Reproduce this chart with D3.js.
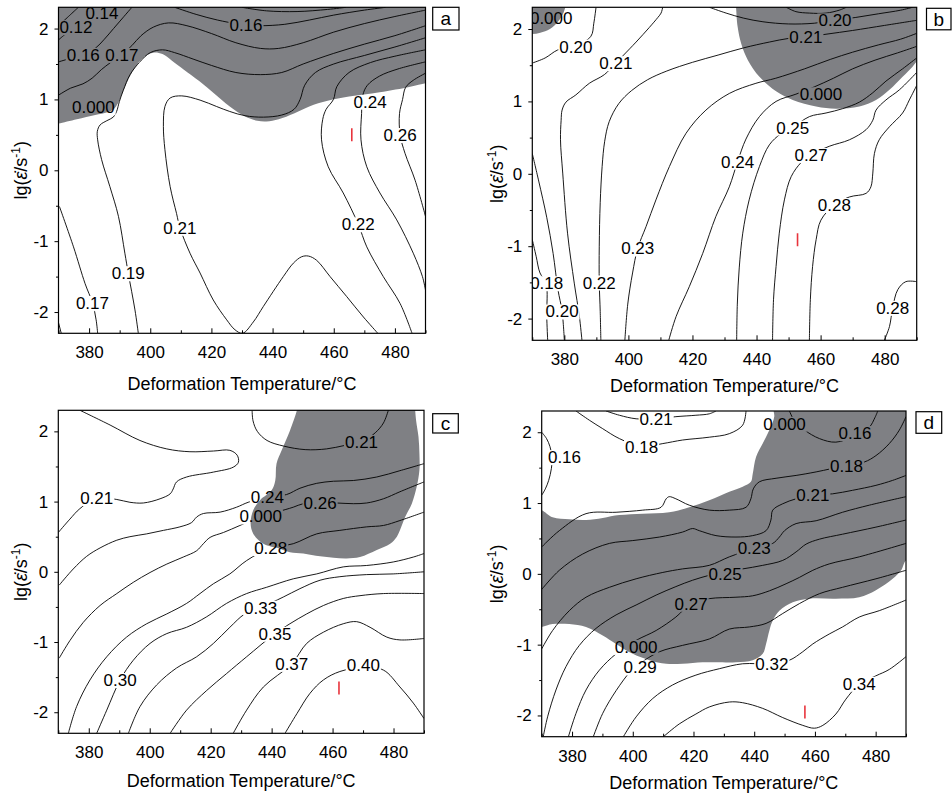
<!DOCTYPE html>
<html>
<head>
<meta charset="utf-8">
<script src="https://cdn.jsdelivr.net/npm/d3@7"></script>
<style>
  body { margin: 0; background: #fff; }
  svg { display: block; }
  text { font-family: "Liberation Sans", Arial, sans-serif; }
</style>
</head>
<body>
<svg id="chart" width="952" height="794"></svg>
<script>
// axis values shared by the four maps
const xDomain = [370, 490];
const yDomain = [-2.3, 2.3];
const xTicks = [380, 400, 420, 440, 460, 480];
const xMinor = [370, 390, 410, 430, 450, 470, 490];
const yTicks = [-2, -1, 0, 1, 2];
const yMinor = [-1.5, -0.5, 0.5, 1.5];

// ---- map a ----  points are [temperature, lg strain rate]
// a region is a list of pieces: curved runs of points, single points are straight corners
const aGray = [
  [[[368,0.65],[370,0.66],[376,0.72],[382,0.78],[386,0.82],[388,0.86],[389.5,0.95],[391,1.1],[393,1.3],[395.5,1.48],[398,1.6],[401,1.66],[404,1.64],[407,1.55],[411,1.42],[416,1.26],[421,1.08],[426,0.9],[431,0.76],[435,0.7],[438,0.69],[442,0.72],[447,0.8],[452,0.9],[458,0.98],[465,1.04],[475,1.1],[485,1.18],[490,1.23],[492,1.24]],
   [[492,2.5]], [[368,2.5]]]
];
const aLines = [
  [[370,1.84],[372.5,1.93],[375.7,2.03],[379.5,2.12],[382.5,2.22],[384.5,2.3]],
  [[371.5,2.1],[374,2.2],[376.5,2.3]],
  [[370,1.53],[374,1.58],[378.1,1.63],[382,1.72],[385,1.85],[388,2.0],[391,2.15],[394,2.3]],
  [[370,1.06],[374,1.16],[378,1.22],[381,1.3],[384,1.42],[387,1.52],[390.7,1.63],[394,1.76],[397,1.9],[401,2.02],[406,2.08],[412,2.04],[420,1.93],[428,1.8],[436,1.72],[442,1.72],[450,1.8],[460,1.95],[470,2.07],[480,2.17],[490,2.26]],
  [[408,2.3],[415,2.2],[422,2.12],[428,2.07],[431.5,2.05],[436,2.04],[444,2.06],[452,2.12],[460,2.19],[470,2.26],[477,2.3]],
  [[430,2.3],[438,2.25],[448,2.24],[458,2.27],[464,2.3]],
  [[396.1,-2.3],[395,-1.97],[392.8,-1.45],[391.7,-1.17],[389.6,-0.65],[386.8,-0.23],[384.1,0.15],[382.8,0.43],[382.7,0.55],[383.6,0.64],[385.8,0.7],[387.9,0.75],[389,0.83],[389.9,0.97],[391.2,1.13],[393.4,1.35],[396.6,1.53],[400,1.66],[404,1.7],[408,1.66],[414,1.57],[420,1.48],[428,1.38],[436,1.35],[443,1.38],[450,1.5],[460,1.65],[470,1.78],[480,1.9],[490,2.04]],
  [[490,1.87],[480,1.74],[470,1.62],[460,1.5],[454,1.38],[450.5,1.2],[449,1.0],[447,0.86],[443,0.78],[437,0.75],[431,0.77],[426,0.83],[421.7,0.9],[416.3,0.99],[410.3,1.05],[406.5,1.02],[404.8,0.9],[404.3,0.62],[404.8,0.29],[406.5,-0.23],[408.6,-0.61],[409.7,-0.81],[413,-1.17],[416.3,-1.45],[420.6,-1.83],[425,-2.11],[427.7,-2.25],[430.2,-2.3],[433.7,-2.14],[437,-1.92],[443.5,-1.5],[446.8,-1.31],[449.5,-1.22],[451.7,-1.21],[454.4,-1.27],[458.8,-1.5],[464.2,-1.78],[469.7,-2.07],[474.4,-2.3]],
  [[490,1.7],[480,1.61],[472,1.52],[465,1.38],[461,1.18],[459.9,1.0],[457.5,0.86],[456.4,0.72],[456,0.43],[458.2,0.05],[463.1,-0.32],[468,-0.76],[470.8,-1.08],[476.2,-1.5],[481.7,-1.88],[485.6,-2.3]],
  [[490,1.53],[481,1.43],[475,1.33],[471,1.2],[469.5,1.06],[469.1,0.8],[468.9,0.43],[470.8,0.05],[475.1,-0.32],[480.6,-0.7],[486,-1.17],[489,-1.5],[490,-1.69]],
  [[490,1.37],[486,1.27],[483.5,1.17],[482.5,1.0],[481.5,0.8],[481.7,0.5],[483.3,0.24],[486.6,-0.14],[490,-0.65]],
  [[370.3,-0.51],[374.9,-1.08],[378.7,-1.6],[381.1,-1.87],[382.3,-2.11],[382.8,-2.3]],
  [[370,-2.15],[370.9,-2.3]]
];
const aLabels = [["0.14",384.2,2.22],["0.12",375.7,2.02],["0.16",378.1,1.63],["0.17",390.7,1.63],["0.16",431.3,2.05],["0.000",381.4,0.89],["0.24",471.9,0.97],["0.26",481.7,0.5],["0.21",409.7,-0.81],["0.22",468,-0.76],["0.19",392.8,-1.45],["0.17",381.1,-1.87]];
const aMarker = [465.9, 0.5];

// ---- map b ----
const bGray = [
  [[[380.6,2.35],[380.3,2.3],[379.5,2.2],[378,2.1],[375.5,2.0],[372.5,1.95],[370,1.93],[368,1.93]],
   [[368,2.5]]],
  [[[433.5,2.35],[433.6,2.3],[434.1,2.03],[435.2,1.8],[437.3,1.57],[440.9,1.34],[446.1,1.14],[451.3,1.02],[458.6,0.93],[464.8,0.9],[472.1,0.93],[477.3,1.02],[481.5,1.16],[485.6,1.34],[488.7,1.48],[490,1.55],[492,1.62]],
   [[492,2.5]]]
];
const bLines = [
  [[370,1.53],[374,1.6],[377.9,1.71],[383.6,1.77],[388.3,1.9],[389.2,2.08],[389.9,2.3]],
  [[410.7,2.3],[410.2,2.22],[409.2,2.16],[406.5,2.02],[402.4,1.82],[398.5,1.64],[396.1,1.53],[392.5,1.37],[387.8,1.25],[383.6,1.09],[380.5,0.99],[379.3,0.88],[379,0.74],[378.8,0.47],[379.5,0.01],[381,-0.82],[383.1,-1.51],[384.7,-1.97],[385.5,-2.3]],
  [[391.4,-2.3],[391.2,-1.9],[390.9,-1.5],[390.9,-1.0],[391.2,-0.4],[391.8,0.1],[392.6,0.45],[394,0.72],[397,0.97],[401,1.15],[406,1.3],[412,1.42],[420,1.54],[428,1.64],[436,1.74],[444,1.82],[450,1.87],[455.4,1.89],[462,1.93],[470,1.98],[480,2.05],[490,2.12]],
  [[398.9,-2.3],[399.8,-1.8],[401.3,-1.37],[402.9,-1.03],[405.5,-0.73],[408.6,-0.36],[412.8,0.1],[418,0.56],[424.2,0.88],[431.5,1.11],[439.8,1.25],[446,1.32],[455,1.45],[463,1.58],[470,1.68],[478,1.78],[485,1.86],[490,1.94]],
  [[412.6,-2.3],[414.9,-1.97],[419,-1.56],[423.2,-1.1],[427.3,-0.59],[431.5,-0.18],[434.1,0.17],[436.7,0.48],[440.9,0.79],[446.1,1.0],[452.3,1.1],[458,1.2],[464,1.32],[470,1.45],[477,1.57],[484,1.67],[490,1.76]],
  [[433.8,-2.3],[434,-1.8],[434.6,-1.3],[435.7,-0.82],[437.7,-0.36],[440.9,0.1],[444,0.4],[447.5,0.55],[451.3,0.64],[456.5,0.79],[461.7,0.84],[466.9,0.9],[472.1,0.99],[476.3,1.12],[480.4,1.28],[485.6,1.45],[490,1.6]],
  [[445,-2.3],[445.3,-1.74],[446.1,-1.28],[447.1,-0.82],[448.7,-0.36],[450.8,-0.04],[454,0.16],[457,0.26],[462.7,0.38],[469,0.47],[474.2,0.61],[476.3,0.74],[477.3,0.88],[480.4,1.02],[484.6,1.16],[490,1.4]],
  [[456.5,-2.3],[456.8,-1.74],[457.5,-1.28],[458.6,-0.91],[460.1,-0.64],[464.3,-0.43],[469,-0.32],[474.2,-0.27],[475.7,-0.18],[476.3,0.01],[476.8,0.28],[478.3,0.47],[481.5,0.65],[485.6,0.84],[487.7,1.02],[490,1.22]],
  [[479.9,-2.3],[481.5,-2.11],[482.5,-1.85],[484.1,-1.6],[486.6,-1.49],[490,-1.49]],
  [[370,-0.91],[371.2,-1.14],[372.4,-1.37],[374.3,-1.51],[374.5,-1.97],[374.8,-2.3]],
  [[370,0.28],[372,-0.1],[374.5,-0.6],[376.5,-1.1],[378,-1.6],[379.3,-1.9],[380,-2.3]],
  [[449.3,2.3],[452.3,2.24],[456.5,2.22],[461.7,2.22],[465.8,2.26],[468,2.3]],
  [[425.3,2.3],[430.5,2.22],[436,2.15],[442,2.1],[450,2.07],[458,2.08],[464.3,2.12],[471,2.16],[478,2.21],[485,2.26],[488.7,2.3]]
];
const bLabels = [["0.000",375.9,2.15],["0.20",383.6,1.76],["0.21",396.1,1.53],["0.20",464.5,2.12],["0.21",455.4,1.89],["0.000",460.1,1.1],["0.25",451.3,0.64],["0.24",434.1,0.17],["0.27",457,0.26],["0.28",464.3,-0.43],["0.23",402.9,-1.03],["0.18",374.5,-1.51],["0.22",390.9,-1.5],["0.20",379.3,-1.9],["0.28",482.5,-1.85]];
const bMarker = [452.8, -0.91];

// ---- map c ----
const cGray = [
  [[[448.5,2.35],[448.3,2.3],[446,2.01],[443.3,1.73],[441.6,1.54],[441.2,1.3],[440,1.16],[436.2,1.02],[434,0.88],[433.1,0.69],[434,0.54],[437.3,0.4],[442.7,0.33],[446,0.28],[450.4,0.26],[455.9,0.22],[460.3,0.2],[464.6,0.19],[469,0.21],[474.5,0.31],[478.9,0.4],[481.1,0.5],[482.1,0.59],[483.8,0.78],[486,0.97],[487.6,1.21],[488.5,1.45],[488.5,1.68],[488.2,1.92],[487.4,2.16],[487.1,2.3],[487,2.35]]]
];
const cLines = [
  [[377.1,2.3],[387,2.09],[396.8,1.87],[405.6,1.75],[413.2,1.71],[420.9,1.72],[426.3,1.73],[428.7,1.66],[429.1,1.56],[427.4,1.49],[420.9,1.42],[412.1,1.35],[408.8,1.28],[407.7,1.18],[406.7,1.11],[403.4,1.04],[397.9,0.98],[393.5,0.99],[389.2,1.03],[382.6,1.05],[377.1,0.9],[373.8,0.75],[370,0.56]],
  [[433.6,2.3],[433.9,2.15],[435.3,2.0],[438.5,1.87],[444,1.79],[451,1.74],[458,1.75],[464,1.8],[469.5,1.85],[474,1.98],[476.7,2.12],[478.3,2.3]],
  [[370.3,-0.19],[374.9,0.04],[379.3,0.22],[383.7,0.34],[389.2,0.45],[393.5,0.5],[399,0.54],[404.5,0.59],[409.9,0.64],[413.7,0.7],[415.4,0.78],[417.6,0.83],[423.1,0.85],[428.5,0.92],[432.3,0.99],[438.4,1.06],[444.9,1.1],[449.3,1.19],[454.8,1.26],[460.3,1.29],[466.8,1.3],[474.5,1.35],[482.1,1.44],[490,1.54]],
  [[370.3,-1.23],[373.8,-0.98],[378.2,-0.72],[383.7,-0.48],[389.2,-0.31],[394.6,-0.15],[400.1,-0.01],[405.6,0.11],[411,0.21],[415.4,0.3],[417.6,0.4],[419.8,0.49],[424.2,0.56],[429.6,0.66],[436.4,0.79],[441.6,0.85],[447.1,0.92],[450.4,0.97],[455.9,0.98],[461.3,0.98],[466.8,0.97],[471.2,0.98],[476.7,1.04],[482.1,1.14],[490,1.28]],
  [[373.3,-2.3],[376,-1.92],[380.4,-1.54],[385.9,-1.21],[392.4,-0.93],[399,-0.74],[405.6,-0.6],[412.1,-0.45],[416.5,-0.31],[420.9,-0.17],[426.3,-0.03],[431.8,0.16],[439.7,0.34],[447.1,0.4],[454.8,0.54],[462.4,0.59],[471.2,0.64],[476.7,0.66],[482.1,0.73],[490,0.85]],
  [[382.6,-2.3],[385.9,-1.97],[390.3,-1.54],[394.6,-1.26],[400.1,-1.02],[405.6,-0.88],[412.1,-0.79],[418.7,-0.64],[425.2,-0.45],[431.8,-0.31],[438.4,-0.22],[447.1,-0.1],[454.8,-0.03],[463.5,0.07],[471.2,0.09],[479.9,0.14],[486.5,0.21],[490,0.26]],
  [[393,-2.3],[396.8,-1.92],[402.3,-1.61],[408.8,-1.37],[415.4,-1.21],[420.9,-1.02],[426.3,-0.79],[431.2,-0.6],[436.4,-0.51],[443.8,-0.36],[449.3,-0.24],[455.9,-0.12],[462.4,-0.07],[471.2,-0.04],[479.9,-0.03],[490,0]],
  [[406.7,-2.3],[412.1,-1.97],[418.7,-1.69],[425.2,-1.45],[431.8,-1.21],[441.1,-0.88],[446,-0.74],[451.5,-0.6],[457,-0.48],[463.5,-0.38],[469,-0.34],[476.7,-0.31],[490,-0.31]],
  [[427.4,-2.3],[431.8,-1.97],[437.3,-1.64],[446.6,-1.31],[451.5,-1.02],[457,-0.86],[463.5,-0.74],[467.9,-0.71],[472.3,-0.79],[477.8,-0.93],[482.1,-0.97],[490,-0.95]],
  [[444.4,-2.3],[448.3,-2.02],[452.6,-1.73],[457,-1.54],[462.4,-1.42],[470.1,-1.36],[476.7,-1.4],[482.1,-1.64],[486.5,-1.87],[490,-2.09]]
];
const cLabels = [["0.21",382.6,1.05],["0.21",469.5,1.85],["0.24",438.6,1.07],["0.26",455.9,0.98],["0.000",436.4,0.79],["0.28",439.7,0.34],["0.33",436.4,-0.51],["0.35",441.1,-0.88],["0.37",446.6,-1.31],["0.30",390.3,-1.54],["0.40",470.1,-1.33]];
const cMarker = [462.1, -1.655];

// ---- map d ----
const dGray = [
  [[[368,0.91],[370,0.9],[373.6,0.8],[379.1,0.77],[384.6,0.76],[390.1,0.79],[395.6,0.83],[403.3,0.85],[412,0.87],[418.6,0.94],[425.2,1.04],[431.8,1.16],[436.2,1.23],[438.9,1.3],[439.5,1.41],[440.6,1.65],[442.8,1.84],[445,2.03],[446.6,2.22],[446.4,2.3],[446.3,2.4]],
   [[492,2.4]],
   [[492,0.19],[490,0.19],[488.4,0.05],[485.6,-0.07],[480.1,-0.23],[474.6,-0.33],[466.9,-0.35],[458.2,-0.35],[452.7,-0.4],[448.3,-0.52],[446.1,-0.66],[445,-0.8],[443.9,-0.99],[442.8,-1.13],[439.5,-1.22],[434,-1.25],[427.4,-1.25],[423,-1.25],[416.4,-1.27],[411,-1.27],[405.5,-1.22],[400,-1.13],[394.5,-0.99],[390.1,-0.87],[384.6,-0.75],[379.1,-0.71],[373.6,-0.71],[370,-0.75],[368,-0.76]]]
];
const dLines = [
  [[381.3,2.3],[385.7,2.17],[390.1,2.05],[395.6,1.91],[402.9,1.8],[409.9,1.84],[416.4,1.89],[425.2,1.93],[431.8,1.98],[436.2,2.1],[437.3,2.3]],
  [[391.2,2.3],[395.6,2.24],[401.1,2.19],[407.7,2.19],[414.2,2.22],[420.8,2.24],[425.2,2.26],[427.4,2.3]],
  [[370,2.0],[371.6,1.91],[372.7,1.8],[373.4,1.65],[373.2,1.49],[372.3,1.32],[371.2,1.2],[370,1.11]],
  [[451.6,2.3],[453.8,2.12],[456.5,2.03],[461.5,1.91],[466.9,1.86],[473.2,1.95],[477.9,2.07],[479.8,2.21],[480.7,2.3]],
  [[370,0.38],[375.8,0.61],[384.6,0.85],[394.5,0.87],[403.3,0.9],[409.3,0.94],[411,1.06],[412,1.09],[414.2,1.06],[418.6,0.97],[425.2,0.9],[431.8,0.9],[437.3,0.94],[438.9,1.06],[439.7,1.2],[441.7,1.3],[447.2,1.35],[453.8,1.39],[460.4,1.44],[470.2,1.53],[476.3,1.58],[480.1,1.67],[484.5,1.84],[487.8,2.03],[490,2.22]],
  [[370,-0.22],[375.8,0.05],[383.5,0.28],[392.3,0.43],[400,0.47],[408.8,0.52],[416.4,0.59],[419.7,0.64],[421.9,0.61],[427.4,0.54],[434,0.52],[439.5,0.54],[443.9,0.61],[445.5,0.76],[446.1,0.9],[449.4,0.99],[453.8,1.06],[459.3,1.11],[465.8,1.13],[472.4,1.18],[480.1,1.25],[485.6,1.32],[490,1.39]],
  [[370,-1.06],[373.6,-0.8],[379.1,-0.52],[384.6,-0.33],[392.3,-0.19],[401.1,-0.07],[409.9,0.02],[416.4,0.07],[425.2,0.12],[431.8,0.24],[440,0.36],[446.1,0.43],[448.3,0.52],[450,0.61],[453.8,0.71],[460.4,0.75],[469.1,0.87],[477.9,0.97],[490,1.09]],
  [[370.5,-2.3],[372,-2.01],[374.7,-1.64],[378,-1.31],[382.4,-1.01],[387.9,-0.77],[394.5,-0.58],[401.1,-0.44],[407.7,-0.3],[414.2,-0.18],[419.7,-0.09],[425.2,-0.02],[430.2,0.03],[436.2,0.07],[442.8,0.12],[449.4,0.19],[453.8,0.31],[457.1,0.42],[461.5,0.49],[469.1,0.56],[480.1,0.66],[490,0.76]],
  [[378.8,-2.3],[381.3,-1.97],[384.6,-1.64],[389,-1.36],[394.5,-1.13],[401.1,-0.94],[407.7,-0.8],[414.2,-0.61],[419.2,-0.42],[425.2,-0.35],[434,-0.33],[439.5,-0.31],[445,-0.24],[450.5,-0.14],[454.9,-0.05],[459.3,0.05],[464.7,0.14],[474.6,0.24],[490,0.43]],
  [[387,-2.3],[390.1,-1.97],[394.5,-1.65],[399.4,-1.37],[402.2,-1.27],[408.8,-1.1],[416.4,-1.01],[425.2,-0.92],[431.8,-0.78],[438.4,-0.75],[443.9,-0.7],[449.4,-0.56],[454.9,-0.42],[461.5,-0.28],[469.1,-0.19],[480.1,-0.07],[490,0.05]],
  [[396.9,-2.3],[401.1,-2.02],[406.6,-1.76],[413.1,-1.57],[420.8,-1.43],[428.5,-1.34],[436.2,-1.27],[445.5,-1.27],[451.6,-1.22],[456,-1.1],[459.3,-0.99],[464.7,-0.85],[469.1,-0.75],[474.6,-0.61],[481.2,-0.52],[490,-0.37]],
  [[410.1,-2.3],[415.3,-2.12],[420.8,-1.98],[425.2,-1.88],[431.8,-1.81],[436.2,-1.82],[442.8,-1.9],[449.4,-2.03],[456,-2.14],[459.8,-2.18],[462.6,-2.14],[466.9,-1.98],[470.2,-1.77],[474.6,-1.56],[480.1,-1.44],[484.5,-1.35],[490,-1.17]]
];
const dLabels = [["0.21",407.7,2.19],["0.18",402.9,1.8],["0.16",377.5,1.65],["0.000",450,2.12],["0.16",473.2,1.99],["0.18",470.4,1.53],["0.21",459.3,1.11],["0.23",440,0.36],["0.25",430.4,0.0],["0.27",419.2,-0.42],["0.000",401.1,-1.03],["0.29",402.4,-1.32],["0.32",445.8,-1.27],["0.34",474.6,-1.55]];
const dMarker = [456.7, -1.95];

// ---- drawing ----
const svg = d3.select("#chart");
const defs = svg.append("defs");
const grayFill = "#7f8084";

const panels = [
  {key: "a", gray: aGray, lines: aLines, labels: aLabels, marker: aMarker,
   box: [58.5, 425.5, 7.3, 333.3], tag: [432.7, 7.3, 26.3, 22.7], xt: 389.5, yt: 27},
  {key: "b", gray: bGray, lines: bLines, labels: bLabels, marker: bMarker,
   box: [532.3, 916.7, 7.3, 340.3], tag: [926.5, 8.3, 24.5, 21.5], xt: 391.5, yt: 503},
  {key: "c", gray: cGray, lines: cLines, labels: cLabels, marker: cMarker,
   box: [58.3, 424, 410.3, 733.3], tag: [432.7, 413.7, 25.6, 19.3], xt: 787, yt: 27},
  {key: "d", gray: dGray, lines: dLines, labels: dLabels, marker: dMarker,
   box: [541.7, 906, 411, 736.7], tag: [916, 411.7, 25.7, 21.6], xt: 788.5, yt: 503}
];

panels.forEach(p => {
  const [x0, x1, y0, y1] = p.box;
  const x = d3.scaleLinear().domain(xDomain).range([x0, x1]);
  const y = d3.scaleLinear().domain(yDomain).range([y1, y0]);
  const g = svg.append("g");

  defs.append("clipPath").attr("id", "clip-" + p.key)
    .append("rect").attr("x", x0).attr("y", y0).attr("width", x1 - x0).attr("height", y1 - y0);

  const plot = g.append("g").attr("clip-path", "url(#clip-" + p.key + ")");

  // instability regions
  const edge = d3.line().x(d => x(d[0])).y(d => y(d[1])).curve(d3.curveCatmullRom.alpha(0.5));
  p.gray.forEach(pieces => {
    const d = pieces.map((pc, i) => {
      const s = pc.length > 1 ? edge(pc) : "M" + x(pc[0][0]) + "," + y(pc[0][1]);
      return i > 0 ? "L" + s.slice(1) : s;
    }).join("") + "Z";
    plot.append("path").attr("d", d).attr("fill", grayFill);
  });

  // mask so contour lines break under their labels
  const mask = defs.append("mask").attr("id", "mask-" + p.key)
    .attr("maskUnits", "userSpaceOnUse").attr("x", 0).attr("y", 0).attr("width", 952).attr("height", 794);
  mask.append("rect").attr("x", 0).attr("y", 0).attr("width", 952).attr("height", 794).attr("fill", "white");

  const lineG = plot.append("g").attr("mask", "url(#mask-" + p.key + ")");
  lineG.selectAll("path").data(p.lines).enter().append("path")
    .attr("d", edge)
    .attr("fill", "none")
    .attr("stroke", "#000")
    .attr("stroke-width", 0.9);

  const lab = plot.append("g").selectAll("text").data(p.labels).enter().append("text")
    .attr("x", d => x(d[1]))
    .attr("y", d => y(d[2]))
    .attr("dy", "0.36em")
    .attr("text-anchor", "middle")
    .attr("font-size", 17)
    .attr("fill", "#000")
    .text(d => d[0]);

  lab.each(function () {
    const b = this.getBBox();
    mask.append("rect").attr("x", b.x - 1).attr("y", b.y + 2).attr("width", b.width + 2).attr("height", b.height - 4).attr("fill", "black");
  });

  // red domain mark
  plot.append("line")
    .attr("x1", x(p.marker[0])).attr("x2", x(p.marker[0]))
    .attr("y1", y(p.marker[1]) - 6.5).attr("y2", y(p.marker[1]) + 6.5)
    .attr("stroke", "#e8343c").attr("stroke-width", 1.6);

  // frame
  g.append("rect").attr("x", x0).attr("y", y0).attr("width", x1 - x0).attr("height", y1 - y0)
    .attr("fill", "none").attr("stroke", "#000").attr("stroke-width", 1.2);

  // axes
  const styleAxis = s => {
    s.select(".domain").remove();
    s.attr("font-size", 17).attr("font-family", "'Liberation Sans', Arial, sans-serif");
    s.selectAll("line").attr("stroke", "#000");
    s.selectAll("text").attr("fill", "#000");
  };
  g.append("g").attr("transform", "translate(0," + y1 + ")")
    .call(d3.axisBottom(x).tickValues(xTicks).tickSize(-5).tickPadding(13).tickFormat(d => String(d)))
    .call(styleAxis);
  g.append("g").attr("transform", "translate(0," + y1 + ")")
    .call(d3.axisBottom(x).tickValues(xMinor).tickSize(-3).tickFormat(""))
    .call(styleAxis);
  g.append("g").attr("transform", "translate(" + x0 + ",0)")
    .call(d3.axisLeft(y).tickValues(yTicks).tickSize(4).tickPadding(6).tickFormat(d => String(d)))
    .call(styleAxis);
  g.append("g").attr("transform", "translate(" + x0 + ",0)")
    .call(d3.axisLeft(y).tickValues(yMinor).tickSize(2.5).tickFormat(""))
    .call(styleAxis);

  // axis titles
  g.append("text").attr("x", (x0 + x1) / 2).attr("y", p.xt)
    .attr("text-anchor", "middle").attr("font-size", 18)
    .text("Deformation Temperature/°C");

  const yt = g.append("text")
    .attr("transform", "translate(" + p.yt + "," + ((y0 + y1) / 2) + ") rotate(-90)")
    .attr("text-anchor", "middle").attr("font-size", 18);
  yt.append("tspan").text("lg(");
  yt.append("tspan").attr("font-style", "italic").text("ε\u0307");
  yt.append("tspan").text("/s");
  yt.append("tspan").attr("font-size", 12).attr("dy", -7).text("-1");
  yt.append("tspan").attr("dy", 7).text(")");

  // panel letter
  const [tx, ty, tw, th] = p.tag;
  g.append("rect").attr("x", tx).attr("y", ty).attr("width", tw).attr("height", th)
    .attr("fill", "#fff").attr("stroke", "#000").attr("stroke-width", 1.2);
  g.append("text").attr("x", tx + tw / 2).attr("y", ty + th / 2).attr("dy", "0.36em")
    .attr("text-anchor", "middle").attr("font-size", 19).text(p.key);
});
</script>
</body>
</html>
